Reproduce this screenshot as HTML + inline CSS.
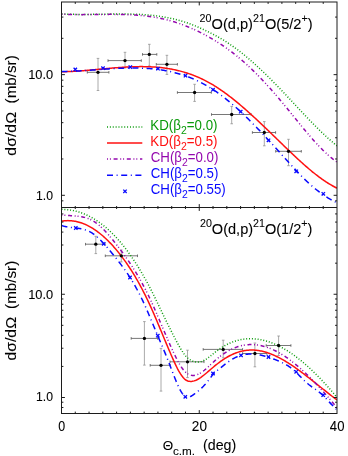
<!DOCTYPE html>
<html><head><meta charset="utf-8"><title>20O(d,p)21O angular distributions</title>
<style>html,body{margin:0;padding:0;background:#fff;}body{width:348px;height:456px;overflow:hidden;font-family:"Liberation Sans",sans-serif;}</style></head>
<body>
<svg width="348" height="456" viewBox="0 0 348 456" style="display:block;font-family:'Liberation Sans',sans-serif;will-change:transform;-webkit-font-smoothing:antialiased">
<rect x="0" y="0" width="348" height="456" fill="#fff"/>
<defs><clipPath id="ct"><rect x="61.5" y="2.0" width="275.5" height="205.0"/></clipPath><clipPath id="cb"><rect x="61.5" y="207.0" width="275.5" height="206.5"/></clipPath></defs>
<g clip-path="url(#ct)">
<path d="M98.00,58.40V90.50M96.70,58.40h2.6M96.70,90.50h2.6" stroke="#8e8e8e" stroke-width="0.75" fill="none"/><path d="M87.30,72.30H108.90M87.30,71.00v2.6M108.90,71.00v2.6" stroke="#555" stroke-width="0.8" fill="none"/>
<path d="M125.00,52.30V68.00M123.70,52.30h2.6M123.70,68.00h2.6" stroke="#8e8e8e" stroke-width="0.75" fill="none"/><path d="M108.00,60.60H141.30M108.00,59.30v2.6M141.30,59.30v2.6" stroke="#555" stroke-width="0.8" fill="none"/>
<path d="M149.30,44.30V66.00M148.00,44.30h2.6M148.00,66.00h2.6" stroke="#8e8e8e" stroke-width="0.75" fill="none"/><path d="M142.50,54.40H156.80M142.50,53.10v2.6M156.80,53.10v2.6" stroke="#555" stroke-width="0.8" fill="none"/>
<path d="M166.90,55.30V74.40M165.60,55.30h2.6M165.60,74.40h2.6" stroke="#8e8e8e" stroke-width="0.75" fill="none"/><path d="M156.30,64.30H177.40M156.30,63.00v2.6M177.40,63.00v2.6" stroke="#555" stroke-width="0.8" fill="none"/>
<path d="M194.60,84.30V101.40M193.30,84.30h2.6M193.30,101.40h2.6" stroke="#8e8e8e" stroke-width="0.75" fill="none"/><path d="M177.40,92.50H211.30M177.40,91.20v2.6M211.30,91.20v2.6" stroke="#555" stroke-width="0.8" fill="none"/>
<path d="M231.70,106.40V123.75M230.40,106.40h2.6M230.40,123.75h2.6" stroke="#8e8e8e" stroke-width="0.75" fill="none"/><path d="M211.50,114.50H251.10M211.50,113.20v2.6M251.10,113.20v2.6" stroke="#555" stroke-width="0.8" fill="none"/>
<path d="M264.30,121.60V145.80M263.00,121.60h2.6M263.00,145.80h2.6" stroke="#8e8e8e" stroke-width="0.75" fill="none"/><path d="M252.40,132.50H275.60M252.40,131.20v2.6M275.60,131.20v2.6" stroke="#555" stroke-width="0.8" fill="none"/>
<path d="M288.50,139.30V165.70M287.20,139.30h2.6M287.20,165.70h2.6" stroke="#8e8e8e" stroke-width="0.75" fill="none"/><path d="M275.70,151.30H301.30M275.70,150.00v2.6M301.30,150.00v2.6" stroke="#555" stroke-width="0.8" fill="none"/>
<path d="M61.50,13.86 L62.42,13.92 L63.34,13.97 L64.26,14.02 L65.19,14.06 L66.11,14.11 L67.03,14.15 L67.95,14.18 L68.87,14.22 L69.79,14.25 L70.71,14.28 L71.64,14.30 L72.56,14.33 L73.48,14.35 L74.40,14.37 L75.32,14.38 L76.24,14.40 L77.16,14.41 L78.09,14.42 L79.01,14.43 L79.93,14.43 L80.85,14.44 L81.77,14.44 L82.69,14.44 L83.61,14.44 L84.54,14.44 L85.46,14.43 L86.38,14.43 L87.30,14.42 L88.22,14.41 L89.14,14.41 L90.06,14.40 L90.98,14.38 L91.91,14.37 L92.83,14.36 L93.75,14.35 L94.67,14.33 L95.59,14.32 L96.51,14.30 L97.43,14.29 L98.36,14.27 L99.28,14.25 L100.20,14.24 L101.12,14.22 L102.04,14.20 L102.96,14.18 L103.88,14.17 L104.81,14.15 L105.73,14.13 L106.65,14.12 L107.57,14.10 L108.49,14.09 L109.41,14.07 L110.33,14.06 L111.26,14.04 L112.18,14.03 L113.10,14.02 L114.02,14.01 L114.94,14.00 L115.86,13.99 L116.78,13.98 L117.71,13.98 L118.63,13.97 L119.55,13.97 L120.47,13.97 L121.39,13.97 L122.31,13.97 L123.23,13.97 L124.16,13.97 L125.08,13.98 L126.00,13.99 L126.92,14.00 L127.84,14.01 L128.76,14.03 L129.68,14.04 L130.61,14.06 L131.53,14.09 L132.45,14.11 L133.37,14.14 L134.29,14.17 L135.21,14.20 L136.13,14.23 L137.06,14.27 L137.98,14.31 L138.90,14.36 L139.82,14.40 L140.74,14.45 L141.66,14.51 L142.58,14.56 L143.51,14.62 L144.43,14.69 L145.35,14.76 L146.27,14.83 L147.19,14.90 L148.11,14.98 L149.03,15.06 L149.95,15.15 L150.88,15.24 L151.80,15.34 L152.72,15.43 L153.64,15.54 L154.56,15.64 L155.48,15.76 L156.40,15.87 L157.33,15.99 L158.25,16.12 L159.17,16.25 L160.09,16.39 L161.01,16.53 L161.93,16.67 L162.85,16.82 L163.78,16.98 L164.70,17.14 L165.62,17.30 L166.54,17.47 L167.46,17.65 L168.38,17.83 L169.30,18.02 L170.23,18.21 L171.15,18.41 L172.07,18.62 L172.99,18.83 L173.91,19.05 L174.83,19.27 L175.75,19.50 L176.68,19.73 L177.60,19.98 L178.52,20.22 L179.44,20.48 L180.36,20.74 L181.28,21.01 L182.20,21.28 L183.13,21.56 L184.05,21.85 L184.97,22.14 L185.89,22.44 L186.81,22.75 L187.73,23.06 L188.65,23.39 L189.58,23.72 L190.50,24.05 L191.42,24.40 L192.34,24.75 L193.26,25.11 L194.18,25.47 L195.10,25.84 L196.03,26.22 L196.95,26.61 L197.87,27.00 L198.79,27.40 L199.71,27.81 L200.63,28.22 L201.55,28.64 L202.47,29.06 L203.40,29.49 L204.32,29.93 L205.24,30.37 L206.16,30.81 L207.08,31.26 L208.00,31.71 L208.92,32.17 L209.85,32.63 L210.77,33.10 L211.69,33.57 L212.61,34.04 L213.53,34.52 L214.45,35.01 L215.37,35.50 L216.30,36.00 L217.22,36.50 L218.14,37.01 L219.06,37.53 L219.98,38.05 L220.90,38.58 L221.82,39.12 L222.75,39.67 L223.67,40.23 L224.59,40.80 L225.51,41.37 L226.43,41.95 L227.35,42.55 L228.27,43.15 L229.20,43.76 L230.12,44.38 L231.04,45.02 L231.96,45.66 L232.88,46.30 L233.80,46.96 L234.72,47.63 L235.65,48.30 L236.57,48.99 L237.49,49.68 L238.41,50.38 L239.33,51.08 L240.25,51.80 L241.17,52.52 L242.10,53.26 L243.02,54.00 L243.94,54.74 L244.86,55.50 L245.78,56.26 L246.70,57.03 L247.62,57.80 L248.55,58.59 L249.47,59.38 L250.39,60.17 L251.31,60.98 L252.23,61.79 L253.15,62.60 L254.07,63.43 L254.99,64.26 L255.92,65.09 L256.84,65.94 L257.76,66.78 L258.68,67.64 L259.60,68.50 L260.52,69.36 L261.44,70.23 L262.37,71.11 L263.29,71.99 L264.21,72.87 L265.13,73.77 L266.05,74.66 L266.97,75.56 L267.89,76.47 L268.82,77.38 L269.74,78.30 L270.66,79.22 L271.58,80.14 L272.50,81.07 L273.42,82.00 L274.34,82.94 L275.27,83.88 L276.19,84.82 L277.11,85.77 L278.03,86.72 L278.95,87.67 L279.87,88.63 L280.79,89.59 L281.72,90.56 L282.64,91.52 L283.56,92.49 L284.48,93.47 L285.40,94.44 L286.32,95.42 L287.24,96.40 L288.17,97.38 L289.09,98.37 L290.01,99.35 L290.93,100.34 L291.85,101.33 L292.77,102.31 L293.69,103.30 L294.62,104.29 L295.54,105.28 L296.46,106.27 L297.38,107.25 L298.30,108.24 L299.22,109.23 L300.14,110.21 L301.07,111.20 L301.99,112.18 L302.91,113.16 L303.83,114.13 L304.75,115.11 L305.67,116.08 L306.59,117.05 L307.52,118.02 L308.44,118.98 L309.36,119.94 L310.28,120.89 L311.20,121.84 L312.12,122.79 L313.04,123.73 L313.96,124.67 L314.89,125.60 L315.81,126.53 L316.73,127.45 L317.65,128.36 L318.57,129.27 L319.49,130.18 L320.41,131.07 L321.34,131.96 L322.26,132.85 L323.18,133.72 L324.10,134.59 L325.02,135.45 L325.94,136.30 L326.86,137.14 L327.79,137.98 L328.71,138.81 L329.63,139.62 L330.55,140.43 L331.47,141.23 L332.39,142.02 L333.31,142.80 L334.24,143.57 L335.16,144.33 L336.08,145.08 L337.00,145.81" fill="none" stroke="#0a9a0a" stroke-width="1.5" stroke-dasharray="1 1.87"/>
<path d="M61.50,71.75 L62.42,71.74 L63.34,71.72 L64.26,71.70 L65.19,71.68 L66.11,71.65 L67.03,71.62 L67.95,71.59 L68.87,71.55 L69.79,71.52 L70.71,71.48 L71.64,71.43 L72.56,71.39 L73.48,71.34 L74.40,71.29 L75.32,71.23 L76.24,71.18 L77.16,71.12 L78.09,71.06 L79.01,70.99 L79.93,70.93 L80.85,70.86 L81.77,70.79 L82.69,70.72 L83.61,70.65 L84.54,70.58 L85.46,70.51 L86.38,70.43 L87.30,70.35 L88.22,70.27 L89.14,70.19 L90.06,70.11 L90.98,70.03 L91.91,69.95 L92.83,69.87 L93.75,69.78 L94.67,69.70 L95.59,69.61 L96.51,69.53 L97.43,69.44 L98.36,69.36 L99.28,69.27 L100.20,69.19 L101.12,69.10 L102.04,69.01 L102.96,68.93 L103.88,68.84 L104.81,68.76 L105.73,68.67 L106.65,68.59 L107.57,68.50 L108.49,68.42 L109.41,68.34 L110.33,68.26 L111.26,68.18 L112.18,68.10 L113.10,68.02 L114.02,67.94 L114.94,67.87 L115.86,67.79 L116.78,67.72 L117.71,67.65 L118.63,67.58 L119.55,67.51 L120.47,67.44 L121.39,67.38 L122.31,67.32 L123.23,67.26 L124.16,67.20 L125.08,67.14 L126.00,67.09 L126.92,67.04 L127.84,66.99 L128.76,66.94 L129.68,66.90 L130.61,66.86 L131.53,66.82 L132.45,66.79 L133.37,66.75 L134.29,66.73 L135.21,66.70 L136.13,66.68 L137.06,66.66 L137.98,66.64 L138.90,66.63 L139.82,66.62 L140.74,66.62 L141.66,66.62 L142.58,66.62 L143.51,66.63 L144.43,66.64 L145.35,66.65 L146.27,66.67 L147.19,66.70 L148.11,66.72 L149.03,66.76 L149.95,66.79 L150.88,66.83 L151.80,66.88 L152.72,66.93 L153.64,66.99 L154.56,67.05 L155.48,67.11 L156.40,67.19 L157.33,67.26 L158.25,67.34 L159.17,67.43 L160.09,67.52 L161.01,67.62 L161.93,67.73 L162.85,67.84 L163.78,67.95 L164.70,68.07 L165.62,68.20 L166.54,68.33 L167.46,68.47 L168.38,68.62 L169.30,68.77 L170.23,68.93 L171.15,69.10 L172.07,69.27 L172.99,69.45 L173.91,69.63 L174.83,69.82 L175.75,70.02 L176.68,70.23 L177.60,70.44 L178.52,70.66 L179.44,70.89 L180.36,71.13 L181.28,71.37 L182.20,71.62 L183.13,71.88 L184.05,72.14 L184.97,72.42 L185.89,72.70 L186.81,72.99 L187.73,73.28 L188.65,73.59 L189.58,73.90 L190.50,74.23 L191.42,74.56 L192.34,74.90 L193.26,75.24 L194.18,75.60 L195.10,75.97 L196.03,76.34 L196.95,76.72 L197.87,77.11 L198.79,77.51 L199.71,77.93 L200.63,78.34 L201.55,78.77 L202.47,79.21 L203.40,79.66 L204.32,80.12 L205.24,80.58 L206.16,81.06 L207.08,81.55 L208.00,82.04 L208.92,82.55 L209.85,83.07 L210.77,83.59 L211.69,84.13 L212.61,84.68 L213.53,85.23 L214.45,85.80 L215.37,86.38 L216.30,86.96 L217.22,87.55 L218.14,88.16 L219.06,88.77 L219.98,89.39 L220.90,90.02 L221.82,90.65 L222.75,91.30 L223.67,91.95 L224.59,92.62 L225.51,93.29 L226.43,93.96 L227.35,94.65 L228.27,95.34 L229.20,96.04 L230.12,96.75 L231.04,97.46 L231.96,98.18 L232.88,98.91 L233.80,99.65 L234.72,100.39 L235.65,101.13 L236.57,101.89 L237.49,102.65 L238.41,103.41 L239.33,104.19 L240.25,104.96 L241.17,105.75 L242.10,106.54 L243.02,107.33 L243.94,108.13 L244.86,108.93 L245.78,109.74 L246.70,110.56 L247.62,111.37 L248.55,112.20 L249.47,113.02 L250.39,113.86 L251.31,114.69 L252.23,115.53 L253.15,116.37 L254.07,117.22 L254.99,118.07 L255.92,118.92 L256.84,119.78 L257.76,120.64 L258.68,121.51 L259.60,122.37 L260.52,123.24 L261.44,124.11 L262.37,124.99 L263.29,125.86 L264.21,126.74 L265.13,127.62 L266.05,128.50 L266.97,129.39 L267.89,130.27 L268.82,131.16 L269.74,132.05 L270.66,132.94 L271.58,133.83 L272.50,134.72 L273.42,135.61 L274.34,136.51 L275.27,137.40 L276.19,138.29 L277.11,139.19 L278.03,140.08 L278.95,140.98 L279.87,141.87 L280.79,142.77 L281.72,143.66 L282.64,144.55 L283.56,145.45 L284.48,146.34 L285.40,147.23 L286.32,148.12 L287.24,149.00 L288.17,149.89 L289.09,150.78 L290.01,151.66 L290.93,152.54 L291.85,153.41 L292.77,154.29 L293.69,155.16 L294.62,156.03 L295.54,156.89 L296.46,157.75 L297.38,158.60 L298.30,159.46 L299.22,160.30 L300.14,161.15 L301.07,161.98 L301.99,162.81 L302.91,163.64 L303.83,164.46 L304.75,165.28 L305.67,166.08 L306.59,166.89 L307.52,167.68 L308.44,168.47 L309.36,169.25 L310.28,170.02 L311.20,170.79 L312.12,171.55 L313.04,172.30 L313.96,173.04 L314.89,173.77 L315.81,174.49 L316.73,175.21 L317.65,175.92 L318.57,176.61 L319.49,177.30 L320.41,177.97 L321.34,178.64 L322.26,179.30 L323.18,179.94 L324.10,180.57 L325.02,181.20 L325.94,181.81 L326.86,182.41 L327.79,182.99 L328.71,183.57 L329.63,184.13 L330.55,184.68 L331.47,185.22 L332.39,185.75 L333.31,186.26 L334.24,186.75 L335.16,187.24 L336.08,187.71 L337.00,188.16" fill="none" stroke="#ff1010" stroke-width="1.5"/>
<path d="M61.50,14.20 L62.42,14.25 L63.34,14.29 L64.26,14.33 L65.19,14.37 L66.11,14.40 L67.03,14.43 L67.95,14.46 L68.87,14.49 L69.79,14.51 L70.71,14.53 L71.64,14.55 L72.56,14.57 L73.48,14.58 L74.40,14.59 L75.32,14.60 L76.24,14.61 L77.16,14.62 L78.09,14.62 L79.01,14.63 L79.93,14.63 L80.85,14.63 L81.77,14.63 L82.69,14.63 L83.61,14.62 L84.54,14.62 L85.46,14.61 L86.38,14.61 L87.30,14.60 L88.22,14.59 L89.14,14.58 L90.06,14.57 L90.98,14.56 L91.91,14.55 L92.83,14.54 L93.75,14.53 L94.67,14.52 L95.59,14.51 L96.51,14.49 L97.43,14.48 L98.36,14.47 L99.28,14.46 L100.20,14.45 L101.12,14.44 L102.04,14.43 L102.96,14.42 L103.88,14.41 L104.81,14.40 L105.73,14.39 L106.65,14.39 L107.57,14.38 L108.49,14.38 L109.41,14.37 L110.33,14.37 L111.26,14.37 L112.18,14.37 L113.10,14.37 L114.02,14.37 L114.94,14.38 L115.86,14.39 L116.78,14.39 L117.71,14.40 L118.63,14.42 L119.55,14.43 L120.47,14.45 L121.39,14.46 L122.31,14.49 L123.23,14.51 L124.16,14.53 L125.08,14.56 L126.00,14.59 L126.92,14.63 L127.84,14.66 L128.76,14.70 L129.68,14.74 L130.61,14.79 L131.53,14.83 L132.45,14.88 L133.37,14.94 L134.29,15.00 L135.21,15.06 L136.13,15.12 L137.06,15.19 L137.98,15.26 L138.90,15.34 L139.82,15.42 L140.74,15.50 L141.66,15.59 L142.58,15.68 L143.51,15.77 L144.43,15.87 L145.35,15.98 L146.27,16.09 L147.19,16.20 L148.11,16.32 L149.03,16.44 L149.95,16.56 L150.88,16.70 L151.80,16.83 L152.72,16.97 L153.64,17.12 L154.56,17.27 L155.48,17.43 L156.40,17.59 L157.33,17.76 L158.25,17.93 L159.17,18.11 L160.09,18.30 L161.01,18.49 L161.93,18.68 L162.85,18.88 L163.78,19.09 L164.70,19.31 L165.62,19.53 L166.54,19.75 L167.46,19.99 L168.38,20.22 L169.30,20.47 L170.23,20.72 L171.15,20.98 L172.07,21.24 L172.99,21.52 L173.91,21.79 L174.83,22.08 L175.75,22.37 L176.68,22.66 L177.60,22.97 L178.52,23.28 L179.44,23.59 L180.36,23.92 L181.28,24.24 L182.20,24.58 L183.13,24.92 L184.05,25.27 L184.97,25.62 L185.89,25.98 L186.81,26.35 L187.73,26.72 L188.65,27.10 L189.58,27.49 L190.50,27.88 L191.42,28.28 L192.34,28.69 L193.26,29.10 L194.18,29.51 L195.10,29.94 L196.03,30.37 L196.95,30.81 L197.87,31.25 L198.79,31.70 L199.71,32.15 L200.63,32.61 L201.55,33.08 L202.47,33.56 L203.40,34.04 L204.32,34.52 L205.24,35.01 L206.16,35.51 L207.08,36.02 L208.00,36.53 L208.92,37.04 L209.85,37.56 L210.77,38.09 L211.69,38.63 L212.61,39.17 L213.53,39.71 L214.45,40.27 L215.37,40.83 L216.30,41.39 L217.22,41.97 L218.14,42.55 L219.06,43.14 L219.98,43.73 L220.90,44.34 L221.82,44.95 L222.75,45.56 L223.67,46.19 L224.59,46.82 L225.51,47.47 L226.43,48.12 L227.35,48.77 L228.27,49.44 L229.20,50.12 L230.12,50.80 L231.04,51.49 L231.96,52.19 L232.88,52.90 L233.80,53.62 L234.72,54.34 L235.65,55.07 L236.57,55.82 L237.49,56.57 L238.41,57.32 L239.33,58.09 L240.25,58.87 L241.17,59.65 L242.10,60.44 L243.02,61.24 L243.94,62.05 L244.86,62.87 L245.78,63.69 L246.70,64.53 L247.62,65.37 L248.55,66.22 L249.47,67.08 L250.39,67.95 L251.31,68.83 L252.23,69.71 L253.15,70.61 L254.07,71.51 L254.99,72.42 L255.92,73.34 L256.84,74.27 L257.76,75.20 L258.68,76.14 L259.60,77.09 L260.52,78.05 L261.44,79.01 L262.37,79.98 L263.29,80.96 L264.21,81.95 L265.13,82.94 L266.05,83.94 L266.97,84.95 L267.89,85.96 L268.82,86.98 L269.74,88.00 L270.66,89.04 L271.58,90.07 L272.50,91.12 L273.42,92.17 L274.34,93.22 L275.27,94.29 L276.19,95.35 L277.11,96.43 L278.03,97.50 L278.95,98.59 L279.87,99.68 L280.79,100.77 L281.72,101.87 L282.64,102.97 L283.56,104.08 L284.48,105.20 L285.40,106.31 L286.32,107.43 L287.24,108.56 L288.17,109.69 L289.09,110.82 L290.01,111.95 L290.93,113.09 L291.85,114.22 L292.77,115.36 L293.69,116.49 L294.62,117.63 L295.54,118.77 L296.46,119.90 L297.38,121.04 L298.30,122.17 L299.22,123.30 L300.14,124.43 L301.07,125.55 L301.99,126.67 L302.91,127.79 L303.83,128.90 L304.75,130.00 L305.67,131.11 L306.59,132.20 L307.52,133.29 L308.44,134.37 L309.36,135.45 L310.28,136.52 L311.20,137.58 L312.12,138.63 L313.04,139.67 L313.96,140.70 L314.89,141.72 L315.81,142.74 L316.73,143.74 L317.65,144.73 L318.57,145.71 L319.49,146.67 L320.41,147.63 L321.34,148.57 L322.26,149.50 L323.18,150.41 L324.10,151.31 L325.02,152.20 L325.94,153.07 L326.86,153.92 L327.79,154.76 L328.71,155.58 L329.63,156.39 L330.55,157.17 L331.47,157.94 L332.39,158.69 L333.31,159.43 L334.24,160.14 L335.16,160.83 L336.08,161.51 L337.00,162.16" fill="none" stroke="#9408ae" stroke-width="1.5" stroke-dasharray="4 2.6 1 1.9 1 2.7" stroke-dashoffset="6.6"/>
<path d="M61.50,71.58 L62.42,71.57 L63.34,71.56 L64.26,71.54 L65.19,71.52 L66.11,71.50 L67.03,71.47 L67.95,71.45 L68.87,71.42 L69.79,71.38 L70.71,71.35 L71.64,71.31 L72.56,71.27 L73.48,71.23 L74.40,71.19 L75.32,71.14 L76.24,71.09 L77.16,71.04 L78.09,70.99 L79.01,70.94 L79.93,70.89 L80.85,70.83 L81.77,70.77 L82.69,70.72 L83.61,70.66 L84.54,70.60 L85.46,70.53 L86.38,70.47 L87.30,70.41 L88.22,70.34 L89.14,70.28 L90.06,70.21 L90.98,70.15 L91.91,70.08 L92.83,70.02 L93.75,69.95 L94.67,69.88 L95.59,69.81 L96.51,69.75 L97.43,69.68 L98.36,69.61 L99.28,69.54 L100.20,69.48 L101.12,69.41 L102.04,69.35 L102.96,69.28 L103.88,69.22 L104.81,69.15 L105.73,69.09 L106.65,69.03 L107.57,68.96 L108.49,68.90 L109.41,68.84 L110.33,68.79 L111.26,68.73 L112.18,68.67 L113.10,68.62 L114.02,68.57 L114.94,68.52 L115.86,68.47 L116.78,68.42 L117.71,68.38 L118.63,68.33 L119.55,68.29 L120.47,68.25 L121.39,68.21 L122.31,68.18 L123.23,68.15 L124.16,68.12 L125.08,68.09 L126.00,68.06 L126.92,68.04 L127.84,68.02 L128.76,68.01 L129.68,67.99 L130.61,67.98 L131.53,67.98 L132.45,67.97 L133.37,67.97 L134.29,67.97 L135.21,67.98 L136.13,67.99 L137.06,68.00 L137.98,68.02 L138.90,68.04 L139.82,68.06 L140.74,68.09 L141.66,68.12 L142.58,68.16 L143.51,68.20 L144.43,68.25 L145.35,68.29 L146.27,68.35 L147.19,68.41 L148.11,68.47 L149.03,68.54 L149.95,68.61 L150.88,68.69 L151.80,68.77 L152.72,68.86 L153.64,68.95 L154.56,69.04 L155.48,69.15 L156.40,69.26 L157.33,69.37 L158.25,69.49 L159.17,69.61 L160.09,69.74 L161.01,69.88 L161.93,70.02 L162.85,70.17 L163.78,70.32 L164.70,70.48 L165.62,70.65 L166.54,70.82 L167.46,71.00 L168.38,71.18 L169.30,71.38 L170.23,71.57 L171.15,71.78 L172.07,71.99 L172.99,72.21 L173.91,72.44 L174.83,72.67 L175.75,72.91 L176.68,73.15 L177.60,73.41 L178.52,73.67 L179.44,73.94 L180.36,74.22 L181.28,74.50 L182.20,74.79 L183.13,75.09 L184.05,75.40 L184.97,75.71 L185.89,76.04 L186.81,76.37 L187.73,76.71 L188.65,77.05 L189.58,77.41 L190.50,77.77 L191.42,78.15 L192.34,78.53 L193.26,78.92 L194.18,79.32 L195.10,79.73 L196.03,80.14 L196.95,80.57 L197.87,81.00 L198.79,81.45 L199.71,81.90 L200.63,82.36 L201.55,82.83 L202.47,83.32 L203.40,83.81 L204.32,84.31 L205.24,84.82 L206.16,85.34 L207.08,85.87 L208.00,86.41 L208.92,86.96 L209.85,87.52 L210.77,88.09 L211.69,88.67 L212.61,89.26 L213.53,89.86 L214.45,90.48 L215.37,91.10 L216.30,91.73 L217.22,92.38 L218.14,93.03 L219.06,93.69 L219.98,94.36 L220.90,95.05 L221.82,95.74 L222.75,96.44 L223.67,97.15 L224.59,97.87 L225.51,98.59 L226.43,99.33 L227.35,100.08 L228.27,100.83 L229.20,101.59 L230.12,102.36 L231.04,103.14 L231.96,103.93 L232.88,104.72 L233.80,105.52 L234.72,106.33 L235.65,107.15 L236.57,107.97 L237.49,108.80 L238.41,109.64 L239.33,110.49 L240.25,111.34 L241.17,112.20 L242.10,113.06 L243.02,113.94 L243.94,114.81 L244.86,115.70 L245.78,116.59 L246.70,117.48 L247.62,118.39 L248.55,119.29 L249.47,120.21 L250.39,121.13 L251.31,122.05 L252.23,122.98 L253.15,123.91 L254.07,124.85 L254.99,125.79 L255.92,126.74 L256.84,127.70 L257.76,128.65 L258.68,129.61 L259.60,130.58 L260.52,131.55 L261.44,132.52 L262.37,133.50 L263.29,134.48 L264.21,135.46 L265.13,136.45 L266.05,137.44 L266.97,138.43 L267.89,139.43 L268.82,140.42 L269.74,141.43 L270.66,142.43 L271.58,143.44 L272.50,144.44 L273.42,145.45 L274.34,146.47 L275.27,147.48 L276.19,148.50 L277.11,149.51 L278.03,150.53 L278.95,151.55 L279.87,152.58 L280.79,153.60 L281.72,154.62 L282.64,155.65 L283.56,156.67 L284.48,157.70 L285.40,158.72 L286.32,159.75 L287.24,160.77 L288.17,161.80 L289.09,162.82 L290.01,163.84 L290.93,164.85 L291.85,165.87 L292.77,166.87 L293.69,167.88 L294.62,168.88 L295.54,169.87 L296.46,170.85 L297.38,171.83 L298.30,172.81 L299.22,173.77 L300.14,174.73 L301.07,175.67 L301.99,176.61 L302.91,177.54 L303.83,178.45 L304.75,179.36 L305.67,180.25 L306.59,181.14 L307.52,182.00 L308.44,182.86 L309.36,183.70 L310.28,184.53 L311.20,185.35 L312.12,186.16 L313.04,186.95 L313.96,187.73 L314.89,188.49 L315.81,189.24 L316.73,189.98 L317.65,190.71 L318.57,191.42 L319.49,192.12 L320.41,192.80 L321.34,193.48 L322.26,194.14 L323.18,194.78 L324.10,195.42 L325.02,196.03 L325.94,196.64 L326.86,197.23 L327.79,197.81 L328.71,198.37 L329.63,198.93 L330.55,199.46 L331.47,199.99 L332.39,200.50 L333.31,200.99 L334.24,201.48 L335.16,201.94 L336.08,202.40 L337.00,202.84" fill="none" stroke="#0808ff" stroke-width="1.5" stroke-dasharray="6 3.6 1 3.6"/>
<path d="M73.60,67.80L77.00,71.20M73.60,71.20L77.00,67.80" stroke="#0808ff" stroke-width="1.3" fill="none"/>
<path d="M101.30,66.50L104.70,69.90M101.30,69.90L104.70,66.50" stroke="#0808ff" stroke-width="1.3" fill="none"/>
<path d="M128.60,65.40L132.00,68.80M128.60,68.80L132.00,65.40" stroke="#0808ff" stroke-width="1.3" fill="none"/>
<path d="M156.30,67.00L159.70,70.40M156.30,70.40L159.70,67.00" stroke="#0808ff" stroke-width="1.3" fill="none"/>
<path d="M183.80,74.00L187.20,77.40M183.80,77.40L187.20,74.00" stroke="#0808ff" stroke-width="1.3" fill="none"/>
<path d="M211.30,88.00L214.70,91.40M211.30,91.40L214.70,88.00" stroke="#0808ff" stroke-width="1.3" fill="none"/>
<path d="M239.00,110.00L242.40,113.40M239.00,113.40L242.40,110.00" stroke="#0808ff" stroke-width="1.3" fill="none"/>
<path d="M266.80,138.60L270.20,142.00M266.80,142.00L270.20,138.60" stroke="#0808ff" stroke-width="1.3" fill="none"/>
<path d="M294.50,169.60L297.90,173.00M294.50,173.00L297.90,169.60" stroke="#0808ff" stroke-width="1.3" fill="none"/>
<path d="M321.60,192.10L325.00,195.50M321.60,195.50L325.00,192.10" stroke="#0808ff" stroke-width="1.3" fill="none"/>
<circle cx="98.00" cy="72.30" r="1.65" fill="#000"/>
<circle cx="125.00" cy="60.60" r="1.65" fill="#000"/>
<circle cx="149.30" cy="54.40" r="1.65" fill="#000"/>
<circle cx="166.90" cy="64.30" r="1.65" fill="#000"/>
<circle cx="194.60" cy="92.50" r="1.65" fill="#000"/>
<circle cx="231.70" cy="114.50" r="1.65" fill="#000"/>
<circle cx="264.30" cy="132.50" r="1.65" fill="#000"/>
<circle cx="288.50" cy="151.30" r="1.65" fill="#000"/>
</g>
<g clip-path="url(#cb)">
<path d="M95.80,236.30V253.60M94.50,236.30h2.6M94.50,253.60h2.6" stroke="#8e8e8e" stroke-width="0.75" fill="none"/><path d="M85.50,244.20H105.00M85.50,242.90v2.6M105.00,242.90v2.6" stroke="#555" stroke-width="0.8" fill="none"/>
<path d="M121.30,250.00V261.90M120.00,250.00h2.6M120.00,261.90h2.6" stroke="#8e8e8e" stroke-width="0.75" fill="none"/><path d="M105.30,255.80H137.50M105.30,254.50v2.6M137.50,254.50v2.6" stroke="#555" stroke-width="0.8" fill="none"/>
<path d="M144.40,321.60V365.10M143.10,321.60h2.6M143.10,365.10h2.6" stroke="#8e8e8e" stroke-width="0.75" fill="none"/><path d="M131.20,338.40H157.60M131.20,337.10v2.6M157.60,337.10v2.6" stroke="#555" stroke-width="0.8" fill="none"/>
<path d="M161.00,348.40V391.10M159.70,348.40h2.6M159.70,391.10h2.6" stroke="#8e8e8e" stroke-width="0.75" fill="none"/><path d="M150.20,365.30H170.20M150.20,364.00v2.6M170.20,364.00v2.6" stroke="#555" stroke-width="0.8" fill="none"/>
<path d="M187.50,350.20V377.60M186.20,350.20h2.6M186.20,377.60h2.6" stroke="#8e8e8e" stroke-width="0.75" fill="none"/><path d="M170.00,361.80H204.00M170.00,360.50v2.6M204.00,360.50v2.6" stroke="#555" stroke-width="0.8" fill="none"/>
<path d="M223.20,340.20V357.80M221.90,340.20h2.6M221.90,357.80h2.6" stroke="#8e8e8e" stroke-width="0.75" fill="none"/><path d="M203.20,349.40H242.60M203.20,348.10v2.6M242.60,348.10v2.6" stroke="#555" stroke-width="0.8" fill="none"/>
<path d="M254.90,343.00V366.80M253.60,343.00h2.6M253.60,366.80h2.6" stroke="#8e8e8e" stroke-width="0.75" fill="none"/><path d="M242.60,353.50H266.90M242.60,352.20v2.6M266.90,352.20v2.6" stroke="#555" stroke-width="0.8" fill="none"/>
<path d="M278.60,336.00V355.50M277.30,336.00h2.6M277.30,355.50h2.6" stroke="#8e8e8e" stroke-width="0.75" fill="none"/><path d="M266.20,345.50H290.90M266.20,344.20v2.6M290.90,344.20v2.6" stroke="#555" stroke-width="0.8" fill="none"/>
<path d="M61.50,209.36 L62.42,209.37 L63.34,209.40 L64.26,209.44 L65.19,209.49 L66.11,209.56 L67.03,209.64 L67.95,209.74 L68.87,209.85 L69.79,209.98 L70.71,210.12 L71.64,210.28 L72.56,210.45 L73.48,210.63 L74.40,210.83 L75.32,211.05 L76.24,211.28 L77.16,211.53 L78.09,211.79 L79.01,212.07 L79.93,212.37 L80.85,212.68 L81.77,213.00 L82.69,213.35 L83.61,213.70 L84.54,214.08 L85.46,214.47 L86.38,214.88 L87.30,215.30 L88.22,215.74 L89.14,216.20 L90.06,216.67 L90.98,217.16 L91.91,217.67 L92.83,218.19 L93.75,218.73 L94.67,219.29 L95.59,219.87 L96.51,220.46 L97.43,221.07 L98.36,221.70 L99.28,222.35 L100.20,223.01 L101.12,223.69 L102.04,224.39 L102.96,225.11 L103.88,225.84 L104.81,226.60 L105.73,227.37 L106.65,228.16 L107.57,228.97 L108.49,229.80 L109.41,230.64 L110.33,231.51 L111.26,232.39 L112.18,233.30 L113.10,234.22 L114.02,235.16 L114.94,236.12 L115.86,237.10 L116.78,238.10 L117.71,239.12 L118.63,240.15 L119.55,241.21 L120.47,242.29 L121.39,243.39 L122.31,244.50 L123.23,245.64 L124.16,246.80 L125.08,247.98 L126.00,249.18 L126.92,250.39 L127.84,251.63 L128.76,252.89 L129.68,254.17 L130.61,255.48 L131.53,256.80 L132.45,258.14 L133.37,259.50 L134.29,260.89 L135.21,262.30 L136.13,263.72 L137.06,265.17 L137.98,266.65 L138.90,268.14 L139.82,269.65 L140.74,271.19 L141.66,272.75 L142.58,274.33 L143.51,275.93 L144.43,277.55 L145.35,279.20 L146.27,280.87 L147.19,282.56 L148.11,284.27 L149.03,286.01 L149.95,287.77 L150.88,289.55 L151.80,291.36 L152.72,293.18 L153.64,295.03 L154.56,296.90 L155.48,298.78 L156.40,300.67 L157.33,302.58 L158.25,304.49 L159.17,306.41 L160.09,308.33 L161.01,310.25 L161.93,312.18 L162.85,314.09 L163.78,316.00 L164.70,317.91 L165.62,319.80 L166.54,321.69 L167.46,323.56 L168.38,325.43 L169.30,327.28 L170.23,329.12 L171.15,330.95 L172.07,332.76 L172.99,334.56 L173.91,336.34 L174.83,338.10 L175.75,339.85 L176.68,341.58 L177.60,343.29 L178.52,344.97 L179.44,346.61 L180.36,348.21 L181.28,349.74 L182.20,351.20 L183.13,352.58 L184.05,353.87 L184.97,355.06 L185.89,356.14 L186.81,357.12 L187.73,357.99 L188.65,358.76 L189.58,359.44 L190.50,360.03 L191.42,360.54 L192.34,360.97 L193.26,361.32 L194.18,361.61 L195.10,361.82 L196.03,361.97 L196.95,362.04 L197.87,362.05 L198.79,361.99 L199.71,361.87 L200.63,361.67 L201.55,361.42 L202.47,361.09 L203.40,360.70 L204.32,360.24 L205.24,359.73 L206.16,359.16 L207.08,358.55 L208.00,357.89 L208.92,357.21 L209.85,356.49 L210.77,355.76 L211.69,355.01 L212.61,354.26 L213.53,353.50 L214.45,352.75 L215.37,352.01 L216.30,351.29 L217.22,350.59 L218.14,349.91 L219.06,349.25 L219.98,348.61 L220.90,348.00 L221.82,347.40 L222.75,346.83 L223.67,346.28 L224.59,345.75 L225.51,345.24 L226.43,344.75 L227.35,344.28 L228.27,343.83 L229.20,343.40 L230.12,342.99 L231.04,342.60 L231.96,342.23 L232.88,341.88 L233.80,341.54 L234.72,341.23 L235.65,340.94 L236.57,340.66 L237.49,340.41 L238.41,340.17 L239.33,339.95 L240.25,339.75 L241.17,339.57 L242.10,339.40 L243.02,339.25 L243.94,339.13 L244.86,339.01 L245.78,338.92 L246.70,338.84 L247.62,338.78 L248.55,338.74 L249.47,338.71 L250.39,338.70 L251.31,338.71 L252.23,338.73 L253.15,338.77 L254.07,338.83 L254.99,338.90 L255.92,338.99 L256.84,339.09 L257.76,339.21 L258.68,339.34 L259.60,339.49 L260.52,339.66 L261.44,339.84 L262.37,340.04 L263.29,340.25 L264.21,340.47 L265.13,340.72 L266.05,340.97 L266.97,341.24 L267.89,341.53 L268.82,341.83 L269.74,342.14 L270.66,342.47 L271.58,342.81 L272.50,343.17 L273.42,343.54 L274.34,343.92 L275.27,344.32 L276.19,344.73 L277.11,345.16 L278.03,345.60 L278.95,346.05 L279.87,346.52 L280.79,347.00 L281.72,347.49 L282.64,348.00 L283.56,348.52 L284.48,349.05 L285.40,349.59 L286.32,350.15 L287.24,350.72 L288.17,351.30 L289.09,351.89 L290.01,352.50 L290.93,353.12 L291.85,353.75 L292.77,354.39 L293.69,355.05 L294.62,355.71 L295.54,356.39 L296.46,357.08 L297.38,357.78 L298.30,358.49 L299.22,359.22 L300.14,359.95 L301.07,360.70 L301.99,361.45 L302.91,362.22 L303.83,363.00 L304.75,363.79 L305.67,364.59 L306.59,365.40 L307.52,366.22 L308.44,367.05 L309.36,367.89 L310.28,368.74 L311.20,369.60 L312.12,370.47 L313.04,371.36 L313.96,372.25 L314.89,373.15 L315.81,374.06 L316.73,374.97 L317.65,375.90 L318.57,376.84 L319.49,377.79 L320.41,378.74 L321.34,379.71 L322.26,380.68 L323.18,381.66 L324.10,382.65 L325.02,383.65 L325.94,384.66 L326.86,385.68 L327.79,386.70 L328.71,387.73 L329.63,388.77 L330.55,389.82 L331.47,390.88 L332.39,391.94 L333.31,393.01 L334.24,394.09 L335.16,395.18 L336.08,396.27 L337.00,397.37" fill="none" stroke="#0a9a0a" stroke-width="1.5" stroke-dasharray="1 1.87"/>
<path d="M61.50,221.18 L62.42,221.03 L63.34,220.91 L64.26,220.81 L65.19,220.73 L66.11,220.67 L67.03,220.63 L67.95,220.62 L68.87,220.63 L69.79,220.66 L70.71,220.71 L71.64,220.78 L72.56,220.88 L73.48,221.00 L74.40,221.14 L75.32,221.30 L76.24,221.48 L77.16,221.69 L78.09,221.91 L79.01,222.16 L79.93,222.43 L80.85,222.72 L81.77,223.03 L82.69,223.37 L83.61,223.72 L84.54,224.10 L85.46,224.50 L86.38,224.92 L87.30,225.36 L88.22,225.82 L89.14,226.30 L90.06,226.81 L90.98,227.33 L91.91,227.88 L92.83,228.44 L93.75,229.03 L94.67,229.64 L95.59,230.27 L96.51,230.92 L97.43,231.59 L98.36,232.28 L99.28,232.99 L100.20,233.73 L101.12,234.48 L102.04,235.25 L102.96,236.05 L103.88,236.86 L104.81,237.69 L105.73,238.55 L106.65,239.42 L107.57,240.32 L108.49,241.23 L109.41,242.17 L110.33,243.12 L111.26,244.10 L112.18,245.10 L113.10,246.11 L114.02,247.15 L114.94,248.20 L115.86,249.28 L116.78,250.37 L117.71,251.48 L118.63,252.62 L119.55,253.77 L120.47,254.95 L121.39,256.14 L122.31,257.35 L123.23,258.59 L124.16,259.85 L125.08,261.13 L126.00,262.43 L126.92,263.75 L127.84,265.10 L128.76,266.47 L129.68,267.86 L130.61,269.28 L131.53,270.72 L132.45,272.18 L133.37,273.67 L134.29,275.19 L135.21,276.73 L136.13,278.29 L137.06,279.88 L137.98,281.50 L138.90,283.15 L139.82,284.82 L140.74,286.52 L141.66,288.25 L142.58,290.01 L143.51,291.79 L144.43,293.60 L145.35,295.45 L146.27,297.32 L147.19,299.22 L148.11,301.15 L149.03,303.12 L149.95,305.11 L150.88,307.13 L151.80,309.19 L152.72,311.27 L153.64,313.37 L154.56,315.50 L155.48,317.64 L156.40,319.81 L157.33,321.99 L158.25,324.18 L159.17,326.38 L160.09,328.59 L161.01,330.81 L161.93,333.03 L162.85,335.25 L163.78,337.47 L164.70,339.69 L165.62,341.90 L166.54,344.11 L167.46,346.30 L168.38,348.49 L169.30,350.66 L170.23,352.81 L171.15,354.94 L172.07,357.05 L172.99,359.13 L173.91,361.18 L174.83,363.18 L175.75,365.13 L176.68,367.00 L177.60,368.81 L178.52,370.52 L179.44,372.14 L180.36,373.66 L181.28,375.06 L182.20,376.34 L183.13,377.48 L184.05,378.48 L184.97,379.32 L185.89,380.01 L186.81,380.54 L187.73,380.93 L188.65,381.20 L189.58,381.36 L190.50,381.42 L191.42,381.39 L192.34,381.29 L193.26,381.11 L194.18,380.87 L195.10,380.56 L196.03,380.19 L196.95,379.76 L197.87,379.28 L198.79,378.75 L199.71,378.17 L200.63,377.56 L201.55,376.91 L202.47,376.22 L203.40,375.51 L204.32,374.78 L205.24,374.02 L206.16,373.25 L207.08,372.47 L208.00,371.67 L208.92,370.88 L209.85,370.09 L210.77,369.29 L211.69,368.51 L212.61,367.73 L213.53,366.96 L214.45,366.20 L215.37,365.45 L216.30,364.71 L217.22,363.99 L218.14,363.27 L219.06,362.57 L219.98,361.88 L220.90,361.21 L221.82,360.56 L222.75,359.92 L223.67,359.30 L224.59,358.70 L225.51,358.12 L226.43,357.56 L227.35,357.02 L228.27,356.50 L229.20,356.00 L230.12,355.52 L231.04,355.06 L231.96,354.63 L232.88,354.21 L233.80,353.81 L234.72,353.43 L235.65,353.07 L236.57,352.73 L237.49,352.41 L238.41,352.11 L239.33,351.83 L240.25,351.57 L241.17,351.33 L242.10,351.12 L243.02,350.92 L243.94,350.74 L244.86,350.58 L245.78,350.44 L246.70,350.32 L247.62,350.22 L248.55,350.14 L249.47,350.08 L250.39,350.04 L251.31,350.02 L252.23,350.02 L253.15,350.04 L254.07,350.08 L254.99,350.14 L255.92,350.22 L256.84,350.32 L257.76,350.43 L258.68,350.57 L259.60,350.72 L260.52,350.89 L261.44,351.08 L262.37,351.29 L263.29,351.51 L264.21,351.75 L265.13,352.00 L266.05,352.28 L266.97,352.56 L267.89,352.87 L268.82,353.19 L269.74,353.52 L270.66,353.87 L271.58,354.23 L272.50,354.61 L273.42,355.00 L274.34,355.41 L275.27,355.82 L276.19,356.26 L277.11,356.70 L278.03,357.16 L278.95,357.63 L279.87,358.11 L280.79,358.60 L281.72,359.11 L282.64,359.62 L283.56,360.15 L284.48,360.69 L285.40,361.24 L286.32,361.79 L287.24,362.36 L288.17,362.94 L289.09,363.53 L290.01,364.12 L290.93,364.73 L291.85,365.34 L292.77,365.96 L293.69,366.59 L294.62,367.23 L295.54,367.87 L296.46,368.52 L297.38,369.18 L298.30,369.84 L299.22,370.51 L300.14,371.19 L301.07,371.87 L301.99,372.56 L302.91,373.25 L303.83,373.95 L304.75,374.65 L305.67,375.36 L306.59,376.07 L307.52,376.78 L308.44,377.50 L309.36,378.22 L310.28,378.94 L311.20,379.67 L312.12,380.40 L313.04,381.13 L313.96,381.86 L314.89,382.60 L315.81,383.33 L316.73,384.07 L317.65,384.81 L318.57,385.54 L319.49,386.28 L320.41,387.02 L321.34,387.75 L322.26,388.49 L323.18,389.23 L324.10,389.96 L325.02,390.69 L325.94,391.42 L326.86,392.15 L327.79,392.88 L328.71,393.60 L329.63,394.32 L330.55,395.04 L331.47,395.76 L332.39,396.47 L333.31,397.17 L334.24,397.88 L335.16,398.57 L336.08,399.27 L337.00,399.95" fill="none" stroke="#ff1010" stroke-width="1.5"/>
<path d="M61.50,215.00 L62.42,215.10 L63.34,215.20 L64.26,215.28 L65.19,215.35 L66.11,215.41 L67.03,215.47 L67.95,215.52 L68.87,215.57 L69.79,215.61 L70.71,215.66 L71.64,215.70 L72.56,215.75 L73.48,215.81 L74.40,215.87 L75.32,215.93 L76.24,216.01 L77.16,216.10 L78.09,216.20 L79.01,216.31 L79.93,216.44 L80.85,216.59 L81.77,216.75 L82.69,216.94 L83.61,217.15 L84.54,217.38 L85.46,217.64 L86.38,217.92 L87.30,218.23 L88.22,218.57 L89.14,218.94 L90.06,219.35 L90.98,219.79 L91.91,220.27 L92.83,220.78 L93.75,221.34 L94.67,221.93 L95.59,222.56 L96.51,223.23 L97.43,223.94 L98.36,224.68 L99.28,225.45 L100.20,226.26 L101.12,227.10 L102.04,227.96 L102.96,228.86 L103.88,229.79 L104.81,230.74 L105.73,231.71 L106.65,232.72 L107.57,233.74 L108.49,234.79 L109.41,235.85 L110.33,236.94 L111.26,238.04 L112.18,239.17 L113.10,240.30 L114.02,241.46 L114.94,242.62 L115.86,243.80 L116.78,244.99 L117.71,246.19 L118.63,247.40 L119.55,248.61 L120.47,249.84 L121.39,251.08 L122.31,252.32 L123.23,253.58 L124.16,254.85 L125.08,256.13 L126.00,257.43 L126.92,258.74 L127.84,260.07 L128.76,261.42 L129.68,262.78 L130.61,264.16 L131.53,265.55 L132.45,266.97 L133.37,268.41 L134.29,269.86 L135.21,271.34 L136.13,272.85 L137.06,274.37 L137.98,275.92 L138.90,277.50 L139.82,279.10 L140.74,280.73 L141.66,282.38 L142.58,284.07 L143.51,285.78 L144.43,287.52 L145.35,289.30 L146.27,291.10 L147.19,292.94 L148.11,294.81 L149.03,296.71 L149.95,298.65 L150.88,300.62 L151.80,302.63 L152.72,304.67 L153.64,306.73 L154.56,308.81 L155.48,310.92 L156.40,313.05 L157.33,315.19 L158.25,317.34 L159.17,319.51 L160.09,321.68 L161.01,323.85 L161.93,326.02 L162.85,328.19 L163.78,330.36 L164.70,332.52 L165.62,334.67 L166.54,336.81 L167.46,338.93 L168.38,341.04 L169.30,343.13 L170.23,345.20 L171.15,347.25 L172.07,349.28 L172.99,351.28 L173.91,353.24 L174.83,355.17 L175.75,357.04 L176.68,358.86 L177.60,360.62 L178.52,362.30 L179.44,363.91 L180.36,365.44 L181.28,366.87 L182.20,368.21 L183.13,369.44 L184.05,370.56 L184.97,371.56 L185.89,372.44 L186.81,373.19 L187.73,373.83 L188.65,374.36 L189.58,374.77 L190.50,375.08 L191.42,375.30 L192.34,375.41 L193.26,375.44 L194.18,375.38 L195.10,375.24 L196.03,375.02 L196.95,374.72 L197.87,374.36 L198.79,373.93 L199.71,373.45 L200.63,372.90 L201.55,372.31 L202.47,371.67 L203.40,370.99 L204.32,370.27 L205.24,369.51 L206.16,368.73 L207.08,367.92 L208.00,367.09 L208.92,366.25 L209.85,365.39 L210.77,364.53 L211.69,363.67 L212.61,362.80 L213.53,361.95 L214.45,361.10 L215.37,360.27 L216.30,359.46 L217.22,358.67 L218.14,357.90 L219.06,357.16 L219.98,356.43 L220.90,355.73 L221.82,355.05 L222.75,354.40 L223.67,353.76 L224.59,353.15 L225.51,352.56 L226.43,351.99 L227.35,351.44 L228.27,350.92 L229.20,350.41 L230.12,349.93 L231.04,349.47 L231.96,349.03 L232.88,348.61 L233.80,348.21 L234.72,347.83 L235.65,347.48 L236.57,347.14 L237.49,346.83 L238.41,346.54 L239.33,346.26 L240.25,346.01 L241.17,345.78 L242.10,345.57 L243.02,345.38 L243.94,345.21 L244.86,345.06 L245.78,344.93 L246.70,344.82 L247.62,344.73 L248.55,344.66 L249.47,344.61 L250.39,344.58 L251.31,344.57 L252.23,344.58 L253.15,344.61 L254.07,344.66 L254.99,344.73 L255.92,344.82 L256.84,344.92 L257.76,345.05 L258.68,345.19 L259.60,345.36 L260.52,345.54 L261.44,345.74 L262.37,345.95 L263.29,346.19 L264.21,346.44 L265.13,346.71 L266.05,347.00 L266.97,347.30 L267.89,347.62 L268.82,347.96 L269.74,348.32 L270.66,348.69 L271.58,349.07 L272.50,349.48 L273.42,349.90 L274.34,350.33 L275.27,350.78 L276.19,351.25 L277.11,351.73 L278.03,352.23 L278.95,352.74 L279.87,353.27 L280.79,353.81 L281.72,354.37 L282.64,354.94 L283.56,355.52 L284.48,356.12 L285.40,356.73 L286.32,357.35 L287.24,357.99 L288.17,358.65 L289.09,359.31 L290.01,359.99 L290.93,360.68 L291.85,361.38 L292.77,362.10 L293.69,362.83 L294.62,363.57 L295.54,364.32 L296.46,365.08 L297.38,365.86 L298.30,366.65 L299.22,367.44 L300.14,368.25 L301.07,369.07 L301.99,369.90 L302.91,370.75 L303.83,371.60 L304.75,372.46 L305.67,373.33 L306.59,374.21 L307.52,375.11 L308.44,376.01 L309.36,376.92 L310.28,377.84 L311.20,378.77 L312.12,379.70 L313.04,380.65 L313.96,381.61 L314.89,382.57 L315.81,383.54 L316.73,384.52 L317.65,385.51 L318.57,386.50 L319.49,387.51 L320.41,388.52 L321.34,389.53 L322.26,390.56 L323.18,391.59 L324.10,392.63 L325.02,393.67 L325.94,394.72 L326.86,395.78 L327.79,396.84 L328.71,397.91 L329.63,398.99 L330.55,400.07 L331.47,401.15 L332.39,402.24 L333.31,403.34 L334.24,404.44 L335.16,405.54 L336.08,406.65 L337.00,407.77" fill="none" stroke="#9408ae" stroke-width="1.5" stroke-dasharray="4 2.6 1 1.9 1 2.7" stroke-dashoffset="6.6"/>
<path d="M61.50,225.50 L62.42,225.79 L63.34,226.05 L64.26,226.28 L65.19,226.49 L66.11,226.68 L67.03,226.85 L67.95,227.01 L68.87,227.15 L69.79,227.28 L70.71,227.39 L71.64,227.51 L72.56,227.62 L73.48,227.72 L74.40,227.83 L75.32,227.93 L76.24,228.05 L77.16,228.17 L78.09,228.30 L79.01,228.44 L79.93,228.59 L80.85,228.76 L81.77,228.95 L82.69,229.16 L83.61,229.40 L84.54,229.66 L85.46,229.94 L86.38,230.26 L87.30,230.61 L88.22,231.00 L89.14,231.42 L90.06,231.89 L90.98,232.39 L91.91,232.94 L92.83,233.54 L93.75,234.18 L94.67,234.87 L95.59,235.61 L96.51,236.39 L97.43,237.21 L98.36,238.07 L99.28,238.96 L100.20,239.88 L101.12,240.82 L102.04,241.79 L102.96,242.78 L103.88,243.78 L104.81,244.80 L105.73,245.83 L106.65,246.87 L107.57,247.93 L108.49,249.00 L109.41,250.09 L110.33,251.18 L111.26,252.29 L112.18,253.40 L113.10,254.53 L114.02,255.67 L114.94,256.82 L115.86,257.98 L116.78,259.15 L117.71,260.33 L118.63,261.51 L119.55,262.71 L120.47,263.92 L121.39,265.14 L122.31,266.37 L123.23,267.62 L124.16,268.89 L125.08,270.18 L126.00,271.49 L126.92,272.82 L127.84,274.18 L128.76,275.57 L129.68,276.99 L130.61,278.43 L131.53,279.91 L132.45,281.42 L133.37,282.96 L134.29,284.54 L135.21,286.15 L136.13,287.80 L137.06,289.49 L137.98,291.21 L138.90,292.97 L139.82,294.77 L140.74,296.61 L141.66,298.49 L142.58,300.42 L143.51,302.38 L144.43,304.39 L145.35,306.43 L146.27,308.51 L147.19,310.62 L148.11,312.76 L149.03,314.92 L149.95,317.10 L150.88,319.29 L151.80,321.50 L152.72,323.71 L153.64,325.93 L154.56,328.15 L155.48,330.37 L156.40,332.57 L157.33,334.77 L158.25,336.95 L159.17,339.12 L160.09,341.28 L161.01,343.44 L161.93,345.60 L162.85,347.76 L163.78,349.94 L164.70,352.14 L165.62,354.37 L166.54,356.62 L167.46,358.92 L168.38,361.25 L169.30,363.62 L170.23,366.03 L171.15,368.45 L172.07,370.88 L172.99,373.29 L173.91,375.68 L174.83,378.02 L175.75,380.30 L176.68,382.52 L177.60,384.65 L178.52,386.67 L179.44,388.57 L180.36,390.33 L181.28,391.93 L182.20,393.36 L183.13,394.58 L184.05,395.60 L184.97,396.38 L185.89,396.91 L186.81,397.20 L187.73,397.27 L188.65,397.16 L189.58,396.90 L190.50,396.50 L191.42,396.00 L192.34,395.43 L193.26,394.80 L194.18,394.16 L195.10,393.49 L196.03,392.80 L196.95,392.09 L197.87,391.35 L198.79,390.58 L199.71,389.79 L200.63,388.96 L201.55,388.10 L202.47,387.21 L203.40,386.28 L204.32,385.31 L205.24,384.31 L206.16,383.26 L207.08,382.18 L208.00,381.04 L208.92,379.87 L209.85,378.64 L210.77,377.37 L211.69,376.11 L212.61,374.90 L213.53,373.82 L214.45,372.87 L215.37,372.02 L216.30,371.25 L217.22,370.52 L218.14,369.80 L219.06,369.08 L219.98,368.34 L220.90,367.61 L221.82,366.87 L222.75,366.13 L223.67,365.39 L224.59,364.66 L225.51,363.94 L226.43,363.23 L227.35,362.54 L228.27,361.86 L229.20,361.20 L230.12,360.57 L231.04,359.96 L231.96,359.38 L232.88,358.83 L233.80,358.31 L234.72,357.83 L235.65,357.38 L236.57,356.96 L237.49,356.58 L238.41,356.22 L239.33,355.89 L240.25,355.59 L241.17,355.32 L242.10,355.08 L243.02,354.87 L243.94,354.68 L244.86,354.52 L245.78,354.38 L246.70,354.27 L247.62,354.18 L248.55,354.11 L249.47,354.07 L250.39,354.05 L251.31,354.05 L252.23,354.07 L253.15,354.12 L254.07,354.18 L254.99,354.26 L255.92,354.36 L256.84,354.47 L257.76,354.61 L258.68,354.76 L259.60,354.92 L260.52,355.10 L261.44,355.30 L262.37,355.51 L263.29,355.74 L264.21,355.97 L265.13,356.22 L266.05,356.48 L266.97,356.76 L267.89,357.04 L268.82,357.34 L269.74,357.64 L270.66,357.95 L271.58,358.27 L272.50,358.60 L273.42,358.94 L274.34,359.28 L275.27,359.63 L276.19,359.99 L277.11,360.35 L278.03,360.73 L278.95,361.12 L279.87,361.53 L280.79,361.94 L281.72,362.38 L282.64,362.83 L283.56,363.30 L284.48,363.79 L285.40,364.30 L286.32,364.84 L287.24,365.40 L288.17,365.98 L289.09,366.59 L290.01,367.23 L290.93,367.90 L291.85,368.60 L292.77,369.33 L293.69,370.09 L294.62,370.89 L295.54,371.73 L296.46,372.60 L297.38,373.51 L298.30,374.44 L299.22,375.40 L300.14,376.37 L301.07,377.33 L301.99,378.30 L302.91,379.25 L303.83,380.18 L304.75,381.08 L305.67,381.93 L306.59,382.75 L307.52,383.53 L308.44,384.28 L309.36,385.01 L310.28,385.70 L311.20,386.38 L312.12,387.05 L313.04,387.70 L313.96,388.35 L314.89,389.00 L315.81,389.66 L316.73,390.32 L317.65,391.00 L318.57,391.69 L319.49,392.41 L320.41,393.16 L321.34,393.93 L322.26,394.75 L323.18,395.60 L324.10,396.49 L325.02,397.42 L325.94,398.38 L326.86,399.36 L327.79,400.36 L328.71,401.36 L329.63,402.37 L330.55,403.38 L331.47,404.37 L332.39,405.35 L333.31,406.31 L334.24,407.24 L335.16,408.14 L336.08,409.00 L337.00,409.80" fill="none" stroke="#0808ff" stroke-width="1.5" stroke-dasharray="6 3.6 1 3.6"/>
<path d="M74.10,226.30L77.50,229.70M74.10,229.70L77.50,226.30" stroke="#0808ff" stroke-width="1.3" fill="none"/>
<path d="M102.00,242.10L105.40,245.50M102.00,245.50L105.40,242.10" stroke="#0808ff" stroke-width="1.3" fill="none"/>
<path d="M128.30,275.80L131.70,279.20M128.30,279.20L131.70,275.80" stroke="#0808ff" stroke-width="1.3" fill="none"/>
<path d="M156.10,334.00L159.50,337.40M156.10,337.40L159.50,334.00" stroke="#0808ff" stroke-width="1.3" fill="none"/>
<path d="M183.60,395.10L187.00,398.50M183.60,398.50L187.00,395.10" stroke="#0808ff" stroke-width="1.3" fill="none"/>
<path d="M211.30,371.80L214.70,375.20M211.30,375.20L214.70,371.80" stroke="#0808ff" stroke-width="1.3" fill="none"/>
<path d="M239.30,353.60L242.70,357.00M239.30,357.00L242.70,353.60" stroke="#0808ff" stroke-width="1.3" fill="none"/>
<path d="M266.80,355.30L270.20,358.70M266.80,358.70L270.20,355.30" stroke="#0808ff" stroke-width="1.3" fill="none"/>
<path d="M294.50,370.10L297.90,373.50M294.50,373.50L297.90,370.10" stroke="#0808ff" stroke-width="1.3" fill="none"/>
<path d="M321.50,393.50L324.90,396.90M321.50,396.90L324.90,393.50" stroke="#0808ff" stroke-width="1.3" fill="none"/>
<circle cx="95.80" cy="244.20" r="1.65" fill="#000"/>
<circle cx="121.30" cy="255.80" r="1.65" fill="#000"/>
<circle cx="144.40" cy="338.40" r="1.65" fill="#000"/>
<circle cx="161.00" cy="365.30" r="1.65" fill="#000"/>
<circle cx="187.50" cy="361.80" r="1.65" fill="#000"/>
<circle cx="223.20" cy="349.40" r="1.65" fill="#000"/>
<circle cx="254.90" cy="353.50" r="1.65" fill="#000"/>
<circle cx="278.60" cy="345.50" r="1.65" fill="#000"/>
</g>
<g stroke="#1c1c1c" stroke-width="1" fill="none" shape-rendering="auto">
<rect x="61.5" y="2.0" width="275.5" height="411.5"/>
<path d="M61.5,207.5H337.0"/>
<path d="M75.28,2.0v1.9M75.28,206.0V209.0M75.28,413.5v-1.9M89.05,2.0v1.9M89.05,206.0V209.0M89.05,413.5v-1.9M102.83,2.0v1.9M102.83,206.0V209.0M102.83,413.5v-1.9M116.60,2.0v1.9M116.60,206.0V209.0M116.60,413.5v-1.9M130.38,2.0v1.9M130.38,206.0V209.0M130.38,413.5v-1.9M144.15,2.0v1.9M144.15,206.0V209.0M144.15,413.5v-1.9M157.93,2.0v1.9M157.93,206.0V209.0M157.93,413.5v-1.9M171.70,2.0v1.9M171.70,206.0V209.0M171.70,413.5v-1.9M185.47,2.0v1.9M185.47,206.0V209.0M185.47,413.5v-1.9M199.25,2.0v3.4M199.25,204.1V210.9M199.25,413.5v-3.4M213.03,2.0v1.9M213.03,206.0V209.0M213.03,413.5v-1.9M226.80,2.0v1.9M226.80,206.0V209.0M226.80,413.5v-1.9M240.57,2.0v1.9M240.57,206.0V209.0M240.57,413.5v-1.9M254.35,2.0v1.9M254.35,206.0V209.0M254.35,413.5v-1.9M268.12,2.0v1.9M268.12,206.0V209.0M268.12,413.5v-1.9M281.90,2.0v1.9M281.90,206.0V209.0M281.90,413.5v-1.9M295.68,2.0v1.9M295.68,206.0V209.0M295.68,413.5v-1.9M309.45,2.0v1.9M309.45,206.0V209.0M309.45,413.5v-1.9M323.23,2.0v1.9M323.23,206.0V209.0M323.23,413.5v-1.9M61.5,200.83h1.9M337.0,200.83h-1.9M61.5,195.31h3.4M337.0,195.31h-3.4M61.5,158.98h1.9M337.0,158.98h-1.9M61.5,137.74h1.9M337.0,137.74h-1.9M61.5,122.66h1.9M337.0,122.66h-1.9M61.5,110.97h1.9M337.0,110.97h-1.9M61.5,101.41h1.9M337.0,101.41h-1.9M61.5,93.34h1.9M337.0,93.34h-1.9M61.5,86.34h1.9M337.0,86.34h-1.9M61.5,80.17h1.9M337.0,80.17h-1.9M61.5,74.65h3.4M337.0,74.65h-3.4M61.5,38.32h1.9M337.0,38.32h-1.9M61.5,17.08h1.9M337.0,17.08h-1.9M61.5,407.51h1.9M337.0,407.51h-1.9M61.5,402.23h1.9M337.0,402.23h-1.9M61.5,397.51h3.4M337.0,397.51h-3.4M61.5,366.43h1.9M337.0,366.43h-1.9M61.5,348.24h1.9M337.0,348.24h-1.9M61.5,335.34h1.9M337.0,335.34h-1.9M61.5,325.34h1.9M337.0,325.34h-1.9M61.5,317.16h1.9M337.0,317.16h-1.9M61.5,310.25h1.9M337.0,310.25h-1.9M61.5,304.26h1.9M337.0,304.26h-1.9M61.5,298.98h1.9M337.0,298.98h-1.9M61.5,294.26h3.4M337.0,294.26h-3.4M61.5,263.18h1.9M337.0,263.18h-1.9M61.5,244.99h1.9M337.0,244.99h-1.9M61.5,232.09h1.9M337.0,232.09h-1.9M61.5,222.09h1.9M337.0,222.09h-1.9M61.5,213.91h1.9M337.0,213.91h-1.9"/>
</g>
<text transform="translate(28.18,78.70) scale(0.9165,0.9538)" font-size="14" fill="#000" stroke="#000" stroke-width="0.08">10.0</text>
<text transform="translate(28.18,298.70) scale(0.9165,0.9538)" font-size="14" fill="#000" stroke="#000" stroke-width="0.08">10.0</text>
<text transform="translate(36.03,199.60) scale(0.8722,0.9538)" font-size="14" fill="#000" stroke="#000" stroke-width="0.08">1.0</text>
<text transform="translate(36.03,401.40) scale(0.8722,0.9538)" font-size="14" fill="#000" stroke="#000" stroke-width="0.08">1.0</text>
<text transform="translate(58.26,431.10) scale(0.8889,0.9949)" font-size="14" fill="#000" stroke="#000" stroke-width="0.08">0</text>
<text transform="translate(191.87,431.00) scale(0.9684,0.9846)" font-size="14" fill="#000" stroke="#000" stroke-width="0.08">20</text>
<text transform="translate(329.87,431.00) scale(0.9356,0.9846)" font-size="14" fill="#000" stroke="#000" stroke-width="0.08">40</text>
<text transform="translate(15.75,103.38) rotate(-90) scale(1.0847,1.0745)" font-size="14" fill="#000" stroke="#000" stroke-width="0.08">(mb/sr)</text>
<text transform="translate(16.30,155.67) rotate(-90) scale(1.1320,1.1100)" font-size="14" fill="#000" stroke="#000" stroke-width="0.08">d&#963;/d&#937;</text>
<text transform="translate(15.75,308.88) rotate(-90) scale(1.0847,1.0745)" font-size="14" fill="#000" stroke="#000" stroke-width="0.08">(mb/sr)</text>
<text transform="translate(16.30,360.62) rotate(-90) scale(1.1307,1.1100)" font-size="14" fill="#000" stroke="#000" stroke-width="0.08">d&#963;/d&#937;</text>
<text transform="translate(162.78,450.10) scale(0.9579,0.9641)" font-size="14" fill="#000" stroke="#000" stroke-width="0.08">&#920;</text>
<text transform="translate(173.01,454.70) scale(0.9762,0.8923)" font-size="12" fill="#000" stroke="#000" stroke-width="0.08">c.m.</text>
<text transform="translate(202.98,450.45) scale(1.0179,1.0154)" font-size="14" fill="#000" stroke="#000" stroke-width="0.08">(deg)</text>
<text transform="translate(199.61,28.85) scale(0.9755,1.0000)" font-size="15" fill="#000" stroke="#000" stroke-width="0.08"><tspan font-size="11" dy="-7.2">20</tspan><tspan dy="7.2">O(d,p)</tspan><tspan font-size="11" dy="-7.2">21</tspan><tspan dy="7.2">O(5/2</tspan><tspan font-size="11" dy="-7.2">+</tspan><tspan dy="7.2">)</tspan></text>
<text transform="translate(200.01,234.00) scale(0.9703,1.0000)" font-size="15" fill="#000" stroke="#000" stroke-width="0.08"><tspan font-size="11" dy="-7.2">20</tspan><tspan dy="7.2">O(d,p)</tspan><tspan font-size="11" dy="-7.2">21</tspan><tspan dy="7.2">O(1/2</tspan><tspan font-size="11" dy="-7.2">+</tspan><tspan dy="7.2">)</tspan></text>
<path d="M107.0,126.9H142.3" stroke="#0a9a0a" stroke-width="1.5" stroke-dasharray="1 1.87"/>
<path d="M107.0,143.1H142.3" stroke="#ff1010" stroke-width="1.5"/>
<path d="M107.0,159.1H142.3" stroke="#9408ae" stroke-width="1.5" stroke-dasharray="4 2.6 1 1.9 1 2.7" stroke-dashoffset="6.6"/>
<path d="M107.0,175.2H142.3" stroke="#0808ff" stroke-width="1.5" stroke-dasharray="6 3.6 1 3.6"/>
<path d="M123.30,189.60L126.70,193.00M123.30,193.00L126.70,189.60" stroke="#0808ff" stroke-width="1.3" fill="none"/>
<text transform="translate(150.31,129.93) scale(0.9518,0.9929)" font-size="14" fill="#0a9a0a" stroke="none" stroke-width="0.08">KD(&#946;<tspan font-size="11" dy="4">2</tspan><tspan dy="-4">=0.0)</tspan></text>
<text transform="translate(150.31,146.03) scale(0.9518,0.9929)" font-size="14" fill="#ff1010" stroke="none" stroke-width="0.08">KD(&#946;<tspan font-size="11" dy="4">2</tspan><tspan dy="-4">=0.5)</tspan></text>
<text transform="translate(150.79,162.13) scale(0.9477,0.9929)" font-size="14" fill="#9408ae" stroke="none" stroke-width="0.08">CH(&#946;<tspan font-size="11" dy="4">2</tspan><tspan dy="-4">=0.0)</tspan></text>
<text transform="translate(150.79,178.23) scale(0.9477,0.9929)" font-size="14" fill="#0808ff" stroke="none" stroke-width="0.08">CH(&#946;<tspan font-size="11" dy="4">2</tspan><tspan dy="-4">=0.5)</tspan></text>
<text transform="translate(150.79,194.33) scale(0.9484,0.9929)" font-size="14" fill="#0808ff" stroke="none" stroke-width="0.08">CH(&#946;<tspan font-size="11" dy="4">2</tspan><tspan dy="-4">=0.55)</tspan></text>
</svg>
</body></html>
